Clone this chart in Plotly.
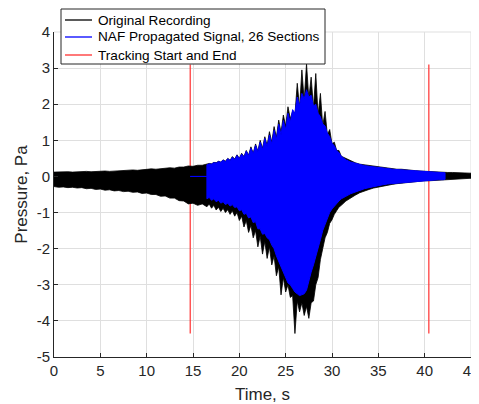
import plotly.graph_objects as go

# ---------------- data ----------------
# Envelope of the original recording (upper / lower extremes), Pa
orig_t = [0, 0.5, 1, 1.5, 2, 2.5, 3, 3.5, 4, 4.5, 5, 5.5, 6, 6.5, 7, 7.5, 8, 8.5,
          9, 9.5, 10, 10.5, 11, 11.5, 12, 12.5, 13, 13.5, 14, 14.5, 15, 15.5, 16,
          16.5, 16.75, 17.0, 17.25, 17.5, 17.75, 18.0, 18.25, 18.5, 18.75, 19.0,
          19.25, 19.5, 19.75, 20.0, 20.25, 20.5, 20.75, 21.0, 21.25, 21.5, 21.75,
          22.0, 22.25, 22.5, 22.75, 23.0, 23.25, 23.5, 23.75, 24.0, 24.25, 24.5,
          24.75, 25.0, 25.25, 25.5, 25.75, 26.0, 26.25, 26.5, 26.75, 27.0, 27.25,
          27.5, 27.75, 28.0, 28.25, 28.5, 28.75, 29.0, 29.25, 29.5, 29.75, 30.0,
          30.25, 30.5, 30.75, 31.0,
          31.5, 32, 32.5, 33, 33.5, 34, 34.5, 35, 35.5, 36, 36.5, 37, 37.5, 38,
          38.5, 39, 39.5, 40, 40.5, 41, 41.5, 42, 42.5, 43, 43.5, 44, 44.5, 45]
orig_upper = [0.12, 0.13, 0.12, 0.13, 0.12, 0.13, 0.13, 0.14, 0.13, 0.14, 0.14, 0.15,
              0.14, 0.15, 0.16, 0.17, 0.16, 0.18, 0.17, 0.19, 0.19, 0.21, 0.20, 0.22,
              0.22, 0.24, 0.23, 0.26, 0.26, 0.29, 0.28, 0.31, 0.31,
              0.34, 0.36, 0.35, 0.39, 0.38, 0.42, 0.40, 0.46, 0.42, 0.50, 0.45,
              0.55, 0.48, 0.60, 0.50, 0.64, 0.55, 0.72, 0.59, 0.82, 0.64, 0.90,
              0.70, 1.00, 0.78, 1.10, 0.86, 1.24, 0.95, 1.38, 1.08, 1.56, 1.22,
              1.70, 1.40, 1.93, 1.60, 1.80, 1.70, 2.58, 1.90, 2.95, 2.10, 3.12,
              2.15, 2.75, 1.90, 2.85, 1.70, 2.30, 1.40, 1.80, 1.15, 1.30, 0.90,
              0.95, 0.72, 0.72, 0.56,
              0.50, 0.42, 0.38, 0.34, 0.32, 0.30, 0.28, 0.26, 0.25, 0.23, 0.22,
              0.20, 0.20, 0.18, 0.17, 0.16, 0.15, 0.14, 0.13, 0.13, 0.12, 0.12,
              0.11, 0.11, 0.10, 0.10, 0.09, 0.09]
orig_lower = [-0.28, -0.30, -0.29, -0.31, -0.30, -0.32, -0.31, -0.34, -0.33, -0.36,
              -0.35, -0.38, -0.37, -0.40, -0.39, -0.42, -0.41, -0.44, -0.43, -0.47,
              -0.46, -0.50, -0.50, -0.55, -0.54, -0.60, -0.60, -0.67, -0.68, -0.76,
              -0.74, -0.80, -0.76,
              -0.84, -0.76, -0.88, -0.80, -0.93, -0.85, -0.97, -0.88, -1.00, -0.92,
              -1.05, -0.95, -1.10, -1.00, -1.22, -1.10, -1.40, -1.22, -1.55, -1.35,
              -1.70, -1.50, -1.95, -1.65, -2.15, -1.80, -2.27, -1.95, -2.45, -2.20,
              -2.75, -2.50, -3.28, -2.80, -3.20, -3.00, -3.35, -3.30, -4.35, -3.45,
              -3.75, -3.50, -3.85, -3.60, -3.93, -3.50, -3.45, -3.00, -2.80, -2.30,
              -2.00, -1.70, -1.55, -1.30, -1.20, -1.05, -0.95, -0.85, -0.80,
              -0.68, -0.60, -0.52, -0.45, -0.40, -0.36, -0.32, -0.29, -0.27, -0.24,
              -0.22, -0.20, -0.18, -0.17, -0.15, -0.14, -0.13, -0.12, -0.12, -0.11,
              -0.10, -0.10, -0.09, -0.08, -0.07, -0.07, -0.06, -0.05]

# Envelope of the NAF propagated signal (26 sections), Pa
naf_t = [16.5, 16.75, 17.0, 17.25, 17.5, 17.75, 18.0, 18.25, 18.5, 18.75, 19.0,
         19.25, 19.5, 19.75, 20.0, 20.25, 20.5, 20.75, 21.0, 21.25, 21.5, 21.75,
         22.0, 22.25, 22.5, 22.75, 23.0, 23.25, 23.5, 23.75, 24.0, 24.25, 24.5,
         24.75, 25.0, 25.25, 25.5, 25.75, 26.0, 26.25, 26.5, 26.75, 27.0, 27.25,
         27.5, 27.75, 28.0, 28.25, 28.5, 28.75, 29.0, 29.25, 29.5, 29.75, 30.0,
         30.25, 30.5, 30.75, 31.0,
         31.5, 32, 32.5, 33, 33.5, 34, 34.5, 35, 35.5, 36, 36.5, 37, 37.5, 38,
         38.5, 39, 39.5, 40, 40.5, 41, 41.5, 42, 42.2]
naf_upper = [0.32, 0.35, 0.34, 0.38, 0.37, 0.41, 0.39, 0.45, 0.41, 0.49, 0.44,
             0.53, 0.47, 0.58, 0.49, 0.62, 0.53, 0.70, 0.57, 0.78, 0.62, 0.86,
             0.68, 0.95, 0.74, 1.05, 0.82, 1.15, 0.90, 1.28, 1.02, 1.45, 1.15,
             1.55, 1.30, 1.75, 1.50, 1.85, 1.75, 2.20, 1.95, 2.30, 2.15, 2.40,
             2.20, 2.25, 1.95, 2.00, 1.75, 1.65, 1.45, 1.40, 1.20, 1.10, 0.92,
             0.85, 0.72, 0.66, 0.56,
             0.46, 0.40, 0.36, 0.32, 0.30, 0.28, 0.26, 0.25, 0.23, 0.22, 0.20,
             0.19, 0.18, 0.17, 0.16, 0.15, 0.14, 0.13, 0.12, 0.12, 0.11, 0.11, 0.10]
naf_lower = [-0.62, -0.58, -0.66, -0.62, -0.70, -0.66, -0.74, -0.70, -0.78, -0.74,
             -0.82, -0.78, -0.86, -0.84, -0.95, -0.92, -1.05, -1.02, -1.15, -1.12,
             -1.28, -1.25, -1.45, -1.45, -1.60, -1.58, -1.70, -1.75, -1.90, -2.00,
             -2.20, -2.40, -2.55, -2.65, -2.80, -2.95, -3.00, -3.10, -3.20, -3.25,
             -3.30, -3.28, -3.25, -3.15, -2.95, -2.65, -2.45, -2.25, -2.00, -1.75,
             -1.50, -1.30, -1.15, -1.00, -0.90, -0.82, -0.75, -0.68, -0.62,
             -0.55, -0.48, -0.43, -0.38, -0.34, -0.31, -0.28, -0.25, -0.23, -0.21,
             -0.19, -0.17, -0.16, -0.15, -0.14, -0.13, -0.12, -0.11, -0.10, -0.10,
             -0.09, -0.09, -0.08]

# Tracking start / end markers (s) and their vertical extent (Pa)
track_times = [14.7, 40.45]
track_extent = [-4.35, 3.1]

series_names = ['Original Recording', 'NAF Propagated Signal, 26 Sections',
                'Tracking Start and End']
series_colors = ['#000000', '#0000ff', '#ff3030']

x_ticks = [0, 5, 10, 15, 20, 25, 30, 35, 40, 45]
x_tick_labels = ['0', '5', '10', '15', '20', '25', '30', '35', '40', '45']
y_ticks = [-5, -4, -3, -2, -1, 0, 1, 2, 3, 4]
y_tick_labels = ['-5', '-4', '-3', '-2', '-1', '0', '1', '2', '3', '4']

FONT = 'Liberation Sans, Arial, Helvetica, sans-serif'
AX = '#262626'
GRID = '#dfdfdf'

fig = go.Figure()

# tracking start/end lines (drawn beneath the signals)
rx, ry = [], []
for tt in track_times:
    rx += [tt, tt, None]
    ry += [track_extent[0], track_extent[1], None]
fig.add_trace(go.Scatter(x=rx, y=ry, mode='lines', line=dict(color=series_colors[2], width=1.2),
                         name=series_names[2], showlegend=False))

# original recording (filled envelope)
fig.add_trace(go.Scatter(x=orig_t + orig_t[::-1], y=orig_upper + orig_lower[::-1],
                         mode='lines', fill='toself', fillcolor=series_colors[0],
                         line=dict(color=series_colors[0], width=0.8),
                         name=series_names[0], showlegend=False, hoverinfo='skip'))

# NAF propagated signal: zero padding from tracking start, then signal envelope
nx = [track_times[0], naf_t[0]] + naf_t + naf_t[::-1] + [naf_t[0], track_times[0]]
ny = [0, 0] + naf_upper + naf_lower[::-1] + [0, 0]
fig.add_trace(go.Scatter(x=nx, y=ny, mode='lines', fill='toself', fillcolor=series_colors[1],
                         line=dict(color=series_colors[1], width=1),
                         name=series_names[1], showlegend=False, hoverinfo='skip'))

# ---- layout geometry (page pixels; body has an 8px default margin) ----
PLOT_L, PLOT_T, PLOT_W, PLOT_H = 54, 32, 417, 325


def px_x(p):
    return (p - PLOT_L) / PLOT_W


def px_y(p):
    return (PLOT_T + PLOT_H - p) / PLOT_H


shapes = [
    # grid lines on the far edges (MATLAB draws them at the limits)
    dict(type='line', xref='paper', yref='paper', x0=0, x1=1, y0=1, y1=1,
         line=dict(color=GRID, width=1), layer='below'),
    dict(type='line', xref='paper', yref='paper', x0=1, x1=1, y0=0, y1=1,
         line=dict(color=GRID, width=1), layer='below'),
    # legend box
    dict(type='rect', xref='paper', yref='paper', x0=px_x(61), x1=px_x(325),
         y0=px_y(64), y1=px_y(9), fillcolor='white', line=dict(color=AX, width=1),
         layer='above'),
]
annotations = []
row_y = [20, 37, 55]
for name, col, ry_ in zip(series_names, series_colors, row_y):
    shapes.append(dict(type='line', xref='paper', yref='paper', x0=px_x(65), x1=px_x(92),
                       y0=px_y(ry_), y1=px_y(ry_), line=dict(color=col, width=1.3),
                       layer='above'))
    annotations.append(dict(xref='paper', yref='paper', x=px_x(96), y=px_y(ry_),
                            xanchor='left', yanchor='middle', text=name, showarrow=False,
                            font=dict(family=FONT, size=13.6, color='#000000')))

fig.update_layout(
    width=471, height=396,
    margin=dict(l=46, r=8, t=24, b=47),
    paper_bgcolor='white', plot_bgcolor='white',
    font=dict(family=FONT, size=15, color=AX),
    showlegend=False,
    shapes=shapes,
    annotations=annotations,
    xaxis=dict(range=[0, 45], tickvals=x_ticks, ticktext=x_tick_labels,
               ticks='inside', ticklen=4, tickcolor=AX, ticklabeloverflow='allow',
               showline=True, linecolor=AX, linewidth=1,
               showgrid=True, gridcolor=GRID, gridwidth=1, zeroline=False,
               title=dict(text='Time, s', font=dict(size=17, color=AX), standoff=10),
               automargin=False),
    yaxis=dict(range=[-5, 4], tickvals=y_ticks, ticktext=y_tick_labels,
               ticks='inside', ticklen=4, tickcolor=AX, ticklabeloverflow='allow',
               showline=True, linecolor=AX, linewidth=1,
               showgrid=True, gridcolor=GRID, gridwidth=1, zeroline=False,
               title=dict(text='Pressure, Pa', font=dict(size=17, color=AX), standoff=4),
               automargin=False),
)

fig.write_html('out.html')
